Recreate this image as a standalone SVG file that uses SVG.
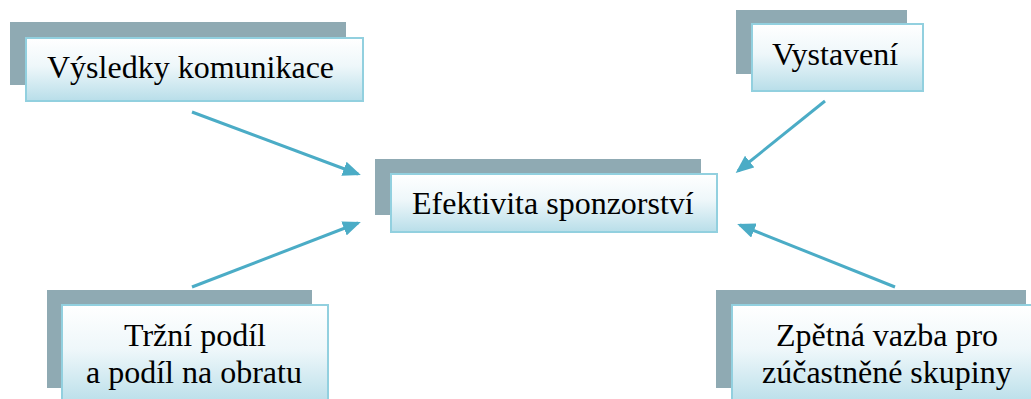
<svg xmlns="http://www.w3.org/2000/svg" width="1031" height="399" viewBox="0 0 1031 399">
<style>
.sh{fill:#8faab3}
.bx{fill:url(#g);stroke:#92d0df;stroke-width:2}
.c{stroke:#4bacc6;stroke-width:3;fill:none;marker-end:url(#a)}
</style>
<defs>
<linearGradient id="g" x1="0" y1="0" x2="0" y2="1">
<stop offset="0" stop-color="#ffffff"/>
<stop offset="0.45" stop-color="#eef7fa"/>
<stop offset="1" stop-color="#b8dee9"/>
</linearGradient>
<marker id="a" markerWidth="6" markerHeight="5" refX="5" refY="2.5" orient="auto" markerUnits="strokeWidth" viewBox="0 0 6 5">
<path d="M0,0 L6,2.5 L0,5 z" fill="#4bacc6"/>
</marker>
</defs>
<g id="connectors">
<line class="c" x1="192" y1="112" x2="358" y2="174"/>
<line class="c" x1="192" y1="287" x2="358" y2="223"/>
<line class="c" x1="825" y1="101" x2="738" y2="171"/>
<line class="c" x1="895" y1="287" x2="740" y2="225"/>
</g>
<g id="n1">
<rect class="sh" x="10" y="22" width="336" height="63"/>
<rect class="bx" x="26" y="38" width="337" height="63"/>
<text x="47" y="78" font-family="Liberation Serif, Times New Roman, serif" font-size="32">Výsledky komunikace</text>
</g>
<g id="n2">
<rect class="sh" x="375" y="159" width="326" height="56"/>
<rect class="bx" x="391" y="174" width="326" height="58"/>
<text x="412" y="214" font-family="Liberation Serif, Times New Roman, serif" font-size="32">Efektivita sponzorství</text>
</g>
<g id="n3">
<rect class="sh" x="736" y="10" width="171" height="64"/>
<rect class="bx" x="752" y="24" width="171" height="67"/>
<text x="772" y="65" font-family="Liberation Serif, Times New Roman, serif" font-size="32">Vystavení</text>
</g>
<g id="n4">
<rect class="sh" x="47" y="290" width="265" height="98"/>
<rect class="bx" x="62" y="305" width="266" height="100"/>
<text x="124" y="346" font-family="Liberation Serif, Times New Roman, serif" font-size="32">Tržní podíl</text>
<text x="86" y="383" font-family="Liberation Serif, Times New Roman, serif" font-size="32">a podíl na obratu</text>
</g>
<g id="n5">
<rect class="sh" x="716" y="290" width="310" height="98"/>
<rect class="bx" x="732" y="305" width="306" height="100"/>
<text x="776" y="346" font-family="Liberation Serif, Times New Roman, serif" font-size="32">Zpětná vazba pro</text>
<text x="762" y="383" font-family="Liberation Serif, Times New Roman, serif" font-size="32">zúčastněné skupiny</text>
</g>
</svg>
